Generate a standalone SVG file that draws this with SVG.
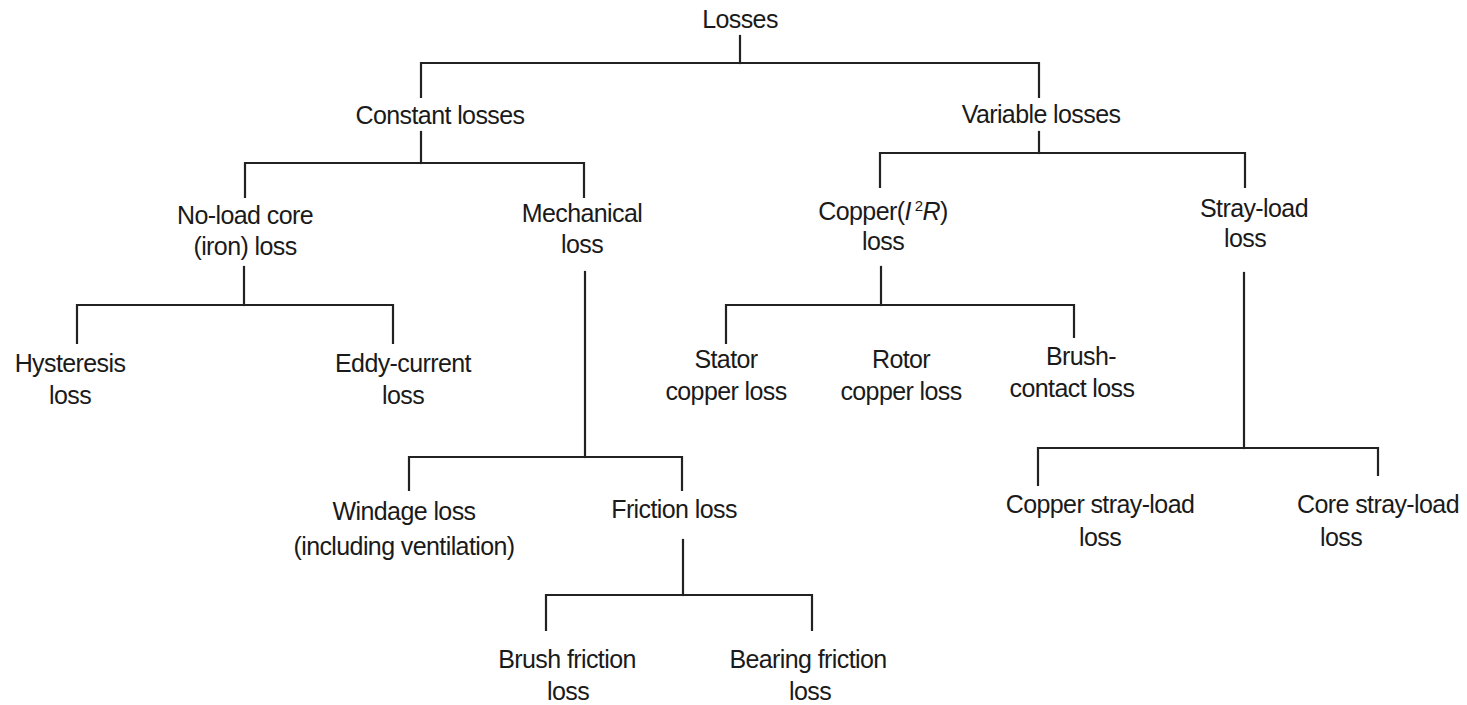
<svg xmlns="http://www.w3.org/2000/svg" width="1467" height="705" viewBox="0 0 1467 705">
  <style>
    .bg { fill: #ffffff; }
    .lbl { font-family: "Liberation Sans", Arial, sans-serif; font-size: 25px; letter-spacing: -0.6px; fill: #1a1a1a; text-anchor: middle; }
    .wire { fill: none; stroke: #222222; stroke-width: 2.2; stroke-linecap: square; }
  </style>
  <rect class="bg" x="0" y="0" width="1467" height="705"/>

  <!-- tree connectors -->
  <g id="connectors">
    <path class="wire" d="M740 36 V63"/>
    <path class="wire" d="M421 97 V63 H1039 V97"/>
    <path class="wire" d="M421 132 V163"/>
    <path class="wire" d="M245 197 V163 H584 V197"/>
    <path class="wire" d="M1039 132 V153"/>
    <path class="wire" d="M880 187 V153 H1245 V187"/>
    <path class="wire" d="M244 267 V305"/>
    <path class="wire" d="M77 343 V305 H393 V343"/>
    <path class="wire" d="M585 272 V457"/>
    <path class="wire" d="M409 490 V457 H682 V490"/>
    <path class="wire" d="M683 540 V595"/>
    <path class="wire" d="M546 630 V595 H812 V630"/>
    <path class="wire" d="M881 267 V305"/>
    <path class="wire" d="M726 343 V305 H1074 V337"/>
    <path class="wire" d="M1244 273 V448"/>
    <path class="wire" d="M1038 485 V448 H1378 V475"/>
  </g>

  <g id="losses"><text class="lbl" x="740" y="28">Losses</text></g>
  <g id="constant-losses"><text class="lbl" x="440" y="124">Constant losses</text></g>
  <g id="variable-losses"><text class="lbl" x="1041" y="123">Variable losses</text></g>

  <g id="core-loss">
    <text class="lbl" x="245" y="224">No-load core</text>
    <text class="lbl" x="245" y="255">(iron) loss</text>
  </g>
  <g id="mechanical-loss">
    <text class="lbl" x="582" y="222">Mechanical</text>
    <text class="lbl" x="582" y="253">loss</text>
  </g>
  <g id="copper-loss">
    <text class="lbl" x="883" y="220">Copper(<tspan font-style="italic">I</tspan><tspan dx="4" dy="-9" font-size="15">2</tspan><tspan dy="9" font-style="italic">R</tspan>)</text>
    <text class="lbl" x="883" y="250">loss</text>
  </g>
  <g id="stray-load-loss">
    <text class="lbl" x="1254" y="217">Stray-load</text>
    <text class="lbl" x="1245" y="247">loss</text>
  </g>

  <g id="hysteresis-loss">
    <text class="lbl" x="70" y="372">Hysteresis</text>
    <text class="lbl" x="70" y="404">loss</text>
  </g>
  <g id="eddy-current-loss">
    <text class="lbl" x="403" y="372">Eddy-current</text>
    <text class="lbl" x="403" y="404">loss</text>
  </g>
  <g id="stator-copper-loss">
    <text class="lbl" x="726" y="368">Stator</text>
    <text class="lbl" x="726" y="400">copper loss</text>
  </g>
  <g id="rotor-copper-loss">
    <text class="lbl" x="901" y="368">Rotor</text>
    <text class="lbl" x="901" y="400">copper loss</text>
  </g>
  <g id="brush-contact-loss">
    <text class="lbl" x="1081" y="365">Brush-</text>
    <text class="lbl" x="1072" y="397">contact loss</text>
  </g>

  <g id="windage-loss">
    <text class="lbl" x="404" y="520">Windage loss</text>
    <text class="lbl" x="404" y="555">(including ventilation)</text>
  </g>
  <g id="friction-loss"><text class="lbl" x="674" y="518">Friction loss</text></g>
  <g id="copper-stray-load-loss">
    <text class="lbl" x="1100" y="513">Copper stray-load</text>
    <text class="lbl" x="1100" y="546">loss</text>
  </g>
  <g id="core-stray-load-loss">
    <text class="lbl" x="1378" y="513">Core stray-load</text>
    <text class="lbl" x="1341" y="546">loss</text>
  </g>
  <g id="brush-friction-loss">
    <text class="lbl" x="567" y="668">Brush friction</text>
    <text class="lbl" x="568" y="700">loss</text>
  </g>
  <g id="bearing-friction-loss">
    <text class="lbl" x="808" y="668">Bearing friction</text>
    <text class="lbl" x="810" y="700">loss</text>
  </g>
</svg>
